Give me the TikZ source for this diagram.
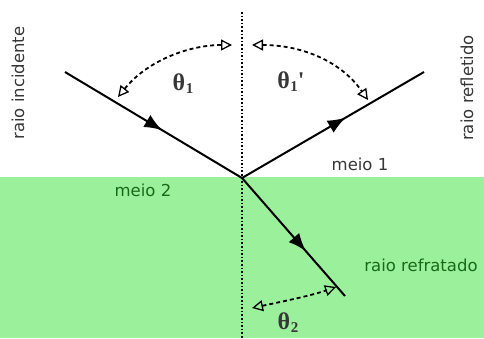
\documentclass[tikz,border=0pt]{standalone}
\usepackage{fontspec}
\setmainfont{DejaVu Sans}
\newfontfamily\thetafont{Liberation Serif}
\usetikzlibrary{arrows.meta,decorations.markings}
\definecolor{medium}{RGB}{155,240,155}
\definecolor{dgreen}{RGB}{25,105,25}
\definecolor{tgray}{RGB}{55,55,55}
\tikzset{
  ray/.style={line width=2pt, postaction={decorate}, decoration={markings, mark=at position #1 with {\arrow{Latex[length=18pt,width=14pt]}}}},
  anglearc/.style={dash pattern=on 4pt off 3pt, line width=1.8pt, {Triangle[open,length=11pt,width=11pt,line width=1.3pt]}-{Triangle[open,length=11pt,width=11pt,line width=1.3pt]}},
  lbl/.style={font=\fontsize{16.5}{19}\selectfont, text=tgray, inner sep=0pt},
  glbl/.style={font=\fontsize{16.5}{19}\selectfont, text=dgreen, inner sep=0pt},
  ang/.style={font=\thetafont\bfseries\fontsize{24}{26}\selectfont, text=tgray, inner sep=0pt}
}
\newcommand{\thsub}[1]{θ\kern0.5pt\raisebox{-3pt}{\fontsize{15}{16}\selectfont #1}}
\begin{document}
\begin{tikzpicture}[x=1pt,y=-1pt]
\useasboundingbox (0,0) rectangle (484,338);
\fill[white] (0,0) rectangle (484,338);
\fill[medium] (0,177) rectangle (484,338);
\coordinate (top) at (242,12);
\coordinate (bot) at (242,338);
\coordinate (o) at (242,178);
\coordinate (inc) at (65,72);
\coordinate (refl) at (424,72);
\coordinate (refr) at (345,296);
\draw[dotted, line width=1.6pt] (top) -- (bot);
\draw[ray=0.55] (inc) -- (o);
\draw[ray=0.57] (o) -- (refl);
\draw[ray=0.62] (o) -- (refr);
\coordinate (a1s) at (118,97);
\coordinate (a1e) at (232,45);
\coordinate (b1s) at (252,45);
\coordinate (b1e) at (368,100);
\coordinate (c2s) at (252,308);
\coordinate (c2e) at (336,287);
\draw[anglearc] (a1s) .. controls (148,60) and (190,45) .. (a1e);
\draw[anglearc] (b1s) .. controls (300,45) and (340,60) .. (b1e);
\draw[anglearc] (c2s) .. controls (280,302) and (310,296) .. (c2e);
\node[ang] (t1) at (183,84) {\thsub{1}};
\node[ang] (t1p) at (291,82) {\thsub{1}'};
\node[ang] (t2) at (288,323) {\thsub{2}};
\node[lbl, rotate=90] (ri) at (18,83) {raio incidente};
\node[lbl, rotate=90] (rr) at (467,88) {raio refletido};
\node[lbl] (m1) at (360,164) {meio 1};
\node[glbl] (m2) at (143,190) {meio 2};
\node[glbl] (rf) at (421,265) {raio refratado};
\end{tikzpicture}
\end{document}
